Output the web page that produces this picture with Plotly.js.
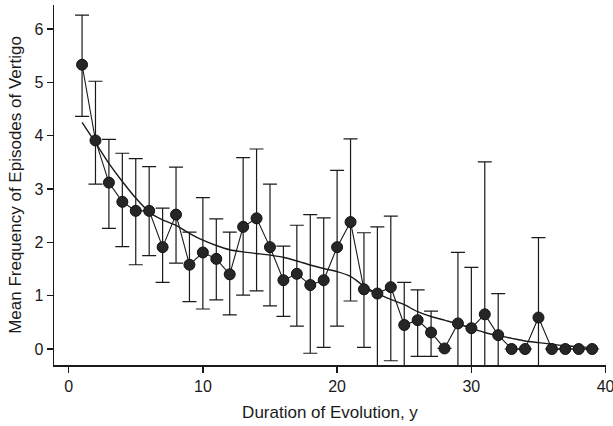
<!DOCTYPE html>
<html>
<head>
<meta charset="utf-8">
<script src="https://cdn.plot.ly/plotly-3.0.1.min.js"></script>
<style>html,body{margin:0;padding:0;background:#fff}#chart{width:613px;height:426px}</style>
</head>
<body>
<div id="chart"></div>
<script>
const years = [1,2,3,4,5,6,7,8,9,10,11,12,13,14,15,16,17,18,19,20,21,22,23,24,25,26,27,28,29,30,31,32,33,34,35,36,37,38,39];
const meanFreq = [5.33,3.91,3.12,2.76,2.59,2.59,1.91,2.52,1.58,1.81,1.69,1.40,2.29,2.45,1.91,1.29,1.41,1.20,1.29,1.91,2.38,1.12,1.04,1.16,0.45,0.54,0.31,0.01,0.48,0.39,0.65,0.26,0,0,0.59,0,0,0,0];
const upperCI = [6.26,5.02,3.93,3.67,3.57,3.42,2.64,3.41,2.19,2.84,2.44,2.19,3.59,3.75,3.09,1.93,2.32,2.52,2.46,3.35,3.94,2.18,2.29,2.49,1.25,1.11,0.71,0.01,1.81,1.53,3.51,1.04,0,0,2.09,0,0,0,0];
const lowerCI = [4.36,3.09,2.26,1.92,1.58,1.75,1.25,1.61,0.89,0.75,0.92,0.64,1.01,1.09,0.81,0.61,0.43,-0.08,0.03,0.43,0.90,0.03,-0.40,-0.22,-0.40,-0.14,-0.14,0.01,-0.85,-0.75,-2.2,-0.52,0,0,-0.9,0,0,0,0];
const smoothX = [1,2,3,4,5,6,7,8,9,10,11,12,13,14,15,16,17,18,19,20,21,22,23,24,25,26,27,28,29,30,31,32,33,34,35,36,37,38,39];
const smoothY = [4.25,3.87,3.48,3.14,2.83,2.57,2.42,2.32,2.17,2.04,1.94,1.86,1.82,1.79,1.76,1.72,1.65,1.575,1.51,1.45,1.36,1.18,1.04,0.93,0.83,0.70,0.61,0.54,0.47,0.39,0.31,0.25,0.2,0.15,0.12,0.09,0.06,0.04,0.03];
const xTicks = [0,10,20,30,40];
const yTicks = [0,1,2,3,4,5,6];

const ink = '#1a1a1a';
const errPlus = upperCI.map((u,i)=>u-meanFreq[i]);
const errMinus = lowerCI.map((l,i)=>meanFreq[i]-l);

const traces = [
  {x: smoothX, y: smoothY, type:'scatter', mode:'lines', line:{color:ink, width:1.4, shape:'spline', smoothing:0.6}, hoverinfo:'skip'},
  {x: years, y: meanFreq, type:'scatter', mode:'lines+markers',
   line:{color:ink, width:1.1},
   marker:{color:'#262626', size:11, line:{color:'#111', width:1}},
   error_y:{type:'data', symmetric:false, array:errPlus, arrayminus:errMinus, color:ink, thickness:1.2, width:7}}
];

const fontFam = '"Liberation Sans Narrow", "Arial Narrow", "Liberation Sans", Arial, sans-serif';
const layout = {
  width:613, height:426,
  margin:{l:54, r:7, t:5, b:61},
  paper_bgcolor:'#fff', plot_bgcolor:'#fff',
  showlegend:false,
  font:{family:fontFam, color:ink, size:16},
  xaxis:{range:[-1.09,40.03], tickvals:xTicks, ticktext:xTicks.map(String), showgrid:false, zeroline:false,
         showline:true, linecolor:ink, linewidth:1.5, ticks:'outside', ticklen:6, tickwidth:1.3, tickcolor:ink,
         tickfont:{size:16, family:fontFam}, ticklabeloverflow:'allow',
         title:{text:'Duration of Evolution, y', font:{size:17, family:fontFam}, standoff:12}},
  yaxis:{range:[-0.3,6.45], tickvals:yTicks, ticktext:yTicks.map(String), showgrid:false, zeroline:false,
         showline:true, linecolor:ink, linewidth:1.5, ticks:'outside', ticklen:6, tickwidth:1.3, tickcolor:ink,
         tickfont:{size:16, family:fontFam},
         title:{text:'Mean Frequency of Episodes of Vertigo', font:{size:17, family:fontFam}, standoff:8}}
};
Plotly.newPlot('chart', traces, layout, {displayModeBar:false, staticPlot:true});
</script>
</body>
</html>
